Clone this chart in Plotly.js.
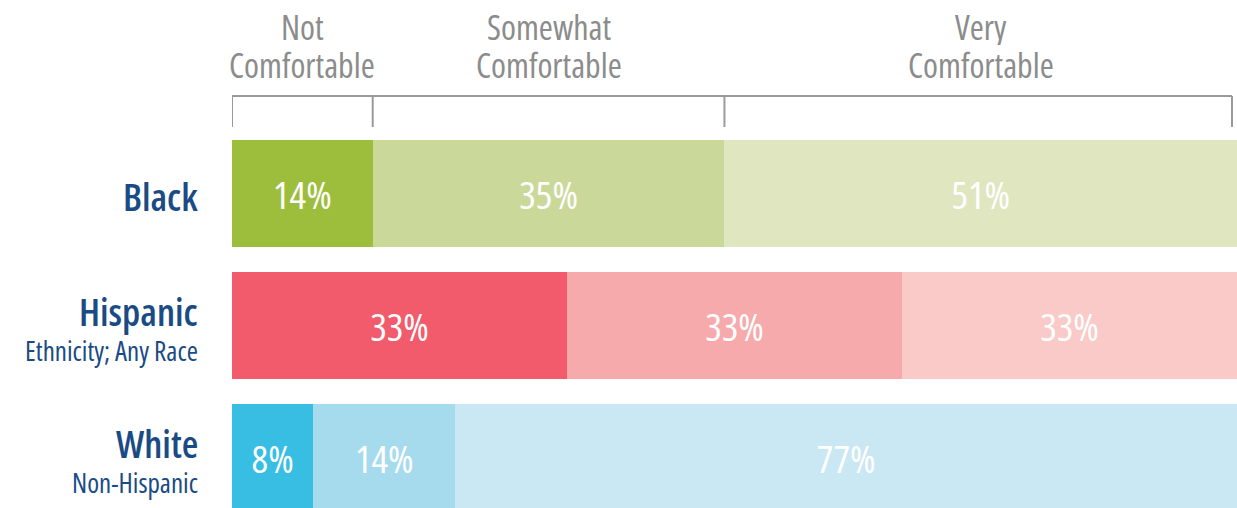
<!DOCTYPE html>
<html>
<head>
<meta charset="utf-8">
<script src="https://cdn.plot.ly/plotly-3.0.1.min.js"></script>
<style>
html,body{margin:0;padding:0;background:#fff;}
#chart{width:1237px;height:508px;}
text{font-stretch:75% !important;}
</style>
</head>
<body>
<div id="chart"></div>
<script>
// ---- data ----
var groups = ['Black', 'Hispanic', 'White'];
var groupSubtitles = ['', 'Ethnicity; Any Race', 'Non-Hispanic'];
var levels = ['Not Comfortable', 'Somewhat Comfortable', 'Very Comfortable'];
var levelHeaderTop = ['Not', 'Somewhat', 'Very'];
var levelHeaderBottom = ['Comfortable', 'Comfortable', 'Comfortable'];
var notComfortable = [14, 33, 8];
var somewhatComfortable = [35, 33, 14];
var veryComfortable = [51, 33, 77];
// colours per group (rows) for each level
var colorsNot = ['#9dbd3c', '#f15b6c', '#38bde3'];
var colorsSomewhat = ['#cad99a', '#f7aaab', '#a6dbee'];
var colorsVery = ['#dfe6c0', '#f9cac7', '#cae7f4'];

var FONT = '"Open Sans", "DejaVu Sans", sans-serif';
var series = [notComfortable, somewhatComfortable, veryComfortable];
var colors = [colorsNot, colorsSomewhat, colorsVery];

var traces = series.map(function (vals, i) {
  return {
    type: 'bar',
    orientation: 'h',
    name: levels[i],
    y: groups,
    x: vals,
    text: vals.map(function (v) { return v + '%'; }),
    textposition: 'inside',
    insidetextanchor: 'middle',
    constraintext: 'none',
    textangle: 0,
    textfont: {family: FONT, size: 39, color: '#ffffff'},
    marker: {color: colors[i], line: {width: 0}},
    hoverinfo: 'skip'
  };
});

// brackets based on the first (Black) row's cumulative shares
var total0 = series.reduce(function (a, s) { return a + s[0]; }, 0);
var edges = [0];
series.forEach(function (s) { edges.push(edges[edges.length - 1] + s[0] / total0 * 100); });
var topY = 1.1196, botY = 1.0353;
var lineStyle = {color: '#9a9a9a', width: 2};
var shapes = [{type: 'line', xref: 'x', yref: 'paper', x0: edges[0], x1: 99.5, y0: topY, y1: topY, line: lineStyle}];
edges.forEach(function (e, i) {
  var xx = i === edges.length - 1 ? 99.5 : e;
  shapes.push({type: 'line', xref: 'x', yref: 'paper', x0: xx, x1: xx, y0: topY, y1: botY, line: lineStyle});
});

var annotations = [];
levels.forEach(function (lv, i) {
  var xc = (edges[i] + edges[i + 1]) / 2;
  annotations.push({xref: 'x', yref: 'paper', x: xc, y: 1, yshift: 113, xanchor: 'center', yanchor: 'middle',
    height: 36, valign: 'middle',
    text: levelHeaderTop[i], showarrow: false, font: {family: FONT, size: 34, color: '#8c8c8c'}});
  annotations.push({xref: 'x', yref: 'paper', x: xc, y: 1, yshift: 75, xanchor: 'center', yanchor: 'middle',
    height: 36, valign: 'middle',
    text: levelHeaderBottom[i], showarrow: false, font: {family: FONT, size: 34, color: '#8c8c8c'}});
});
var labelX = -32 / 1005;
groups.forEach(function (g, i) {
  var hasSub = !!groupSubtitles[i];
  annotations.push({xref: 'paper', yref: 'y', x: labelX, y: g, xanchor: 'right', yanchor: 'middle',
    yshift: hasSub ? 14 : -3, text: g, showarrow: false,
    font: {family: FONT, size: 38, weight: 600, color: '#1a4b84'}});
  if (hasSub) {
    annotations.push({xref: 'paper', yref: 'y', x: labelX, y: g, xanchor: 'right', yanchor: 'middle',
      yshift: -25, text: groupSubtitles[i], showarrow: false,
      font: {family: FONT, size: 27, weight: 500, color: '#1a4b84'}});
  }
});

var layout = {
  width: 1237, height: 508,
  margin: {l: 232, r: 0, t: 140, b: 0, pad: 0},
  paper_bgcolor: '#ffffff', plot_bgcolor: '#ffffff',
  barmode: 'stack', barnorm: 'percent', bargap: 0.19,
  showlegend: false,
  xaxis: {range: [0, 100], visible: false, fixedrange: true},
  yaxis: {
    type: 'category', range: [2.383, -0.405], autorange: false,
    showticklabels: false, ticks: '', showgrid: false, zeroline: false, showline: false,
    automargin: false, fixedrange: true
  },
  shapes: shapes,
  annotations: annotations,
  font: {family: FONT}
};

Plotly.newPlot('chart', traces, layout, {staticPlot: true, displayModeBar: false});
</script>
</body>
</html>
